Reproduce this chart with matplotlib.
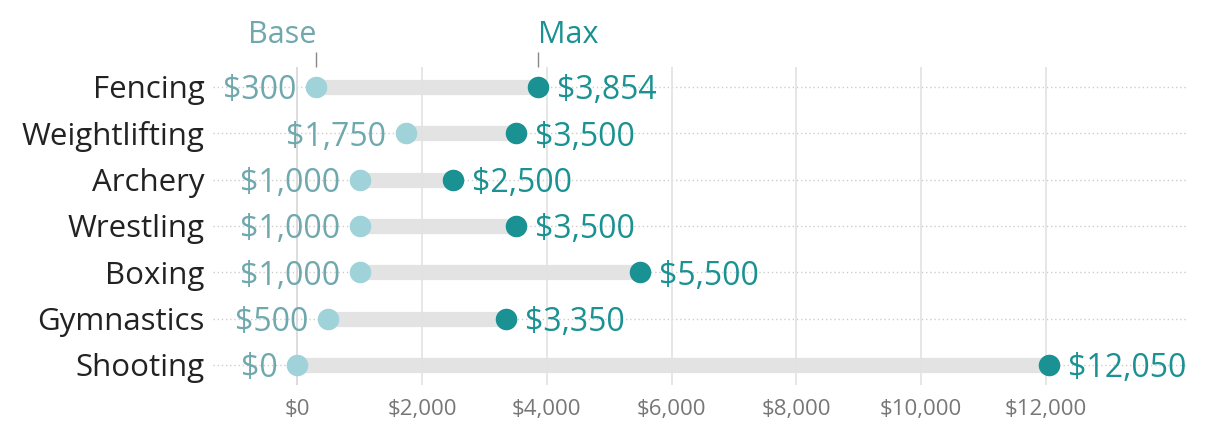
import matplotlib.pyplot as plt
from matplotlib.ticker import FuncFormatter

# data
sports = ["Fencing", "Weightlifting", "Archery", "Wrestling", "Boxing", "Gymnastics", "Shooting"]
base_pay = [300, 1750, 1000, 1000, 1000, 500, 0]
max_pay = [3854, 3500, 2500, 3500, 5500, 3350, 12050]
x_ticks = [0, 2000, 4000, 6000, 8000, 10000, 12000]

base_color = "#a0d2d9"
base_text = "#6fa8ad"
max_color = "#1a9192"

plt.rcParams['font.family'] = ['Open Sans', 'DejaVu Sans']

def money(v, pos=None):
    return f"${v:,.0f}"

fig = plt.figure(figsize=(12.2, 4.32), dpi=100)
ax = fig.add_axes([0.1746, 0.109, 0.7984, 0.736])

rows = list(range(len(sports)))

# row guides and bars
for y in rows:
    ax.axhline(y, color="#cccccc", lw=1, ls=(0, (1, 2)), zorder=0)
ax.hlines(rows, base_pay, max_pay, color="#e3e3e3", lw=11, zorder=1)
ax.plot(base_pay, rows, "o", color=base_color, ms=14.5, zorder=3)
ax.plot(max_pay, rows, "o", color=max_color, ms=14.5, zorder=3)

for y, b, m in zip(rows, base_pay, max_pay):
    ax.annotate(money(b), (b, y), xytext=(-20, 0), textcoords="offset pixels",
                ha="right", va="center_baseline", fontsize=23, color=base_text)
    ax.annotate(money(m), (m, y), xytext=(19, 0), textcoords="offset pixels",
                ha="left", va="center_baseline", fontsize=23, color=max_color)

ax.set_xlim(-1350, 14260)
ax.set_ylim(len(sports) - 0.57, -0.43)

ax.set_yticks(rows)
ax.set_yticklabels(sports, fontsize=22.5, color="#222222")
ax.tick_params(axis="y", length=0, pad=6)

ax.set_xticks(x_ticks)
ax.xaxis.set_major_formatter(FuncFormatter(money))
ax.tick_params(axis="x", length=0, labelsize=16, labelcolor="#777777", pad=10)
ax.grid(axis="x", color="#e2e2e2", lw=1.2, zorder=0)
ax.axvline(0, color="#bbbbbb", lw=1.2, zorder=0)

for s in ax.spines.values():
    s.set_visible(False)

# Base / Max header
top = ax.secondary_xaxis("top")
top.set_xticks([base_pay[0], max_pay[0]])
top.set_xticklabels(["Base", "Max"], fontsize=22)
top.tick_params(length=11, width=1, color="#888888", pad=1)
lbls = top.get_xticklabels()
lbls[0].set_color(base_text)
lbls[0].set_ha("right")
lbls[1].set_color(max_color)
lbls[1].set_ha("left")
top.spines["top"].set_visible(False)

plt.savefig("out.png", dpi=100)
